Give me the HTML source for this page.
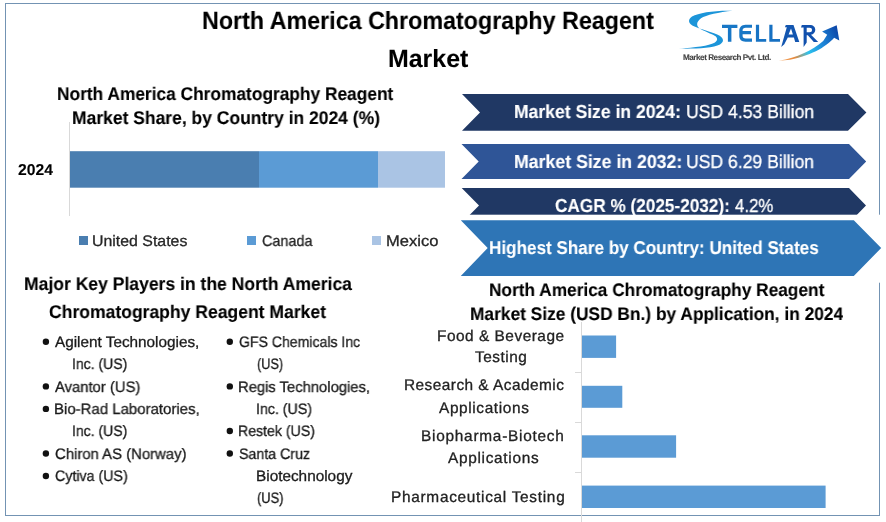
<!DOCTYPE html>
<html><head><meta charset="utf-8"><style>
html,body{margin:0;padding:0;background:#fff;width:886px;height:522px;overflow:hidden}
#r{position:relative;width:886px;height:522px;overflow:hidden}
svg{position:absolute;left:0;top:0}
.t{position:absolute;white-space:nowrap;font-family:'Liberation Sans', sans-serif;transform-origin:0 0;text-rendering:geometricPrecision;will-change:transform;-webkit-text-stroke:0.3px currentColor} .t.b{-webkit-text-stroke:0.1px currentColor}
</style></head><body><div id="r">
<svg width="886" height="522" viewBox="0 0 886 522"><rect x="5.5" y="3.5" width="874" height="512" fill="none" stroke="#7393b3" stroke-width="1"/><rect x="69" y="122" width="1" height="94" fill="#d9d9d9"/><rect x="70" y="151.2" width="189" height="36.5" fill="#4a7eb0"/><rect x="259" y="151.2" width="119" height="36.5" fill="#5b9bd5"/><rect x="378" y="151.2" width="67" height="36.5" fill="#aac4e4"/><rect x="79" y="236" width="9" height="9" fill="#4a7eb0"/><rect x="247" y="236" width="9" height="9" fill="#5b9bd5"/><rect x="372" y="236" width="9" height="9" fill="#aac4e4"/><polygon points="462,94 848,94 866.4,112.4 848,130.7 462,130.7 480,112.4" fill="#203864"/><polygon points="461.5,144 849,144 866.2,161.5 849,179 461.5,179 478.7,161.5" fill="#2f5597"/><polygon points="461.7,188.1 849,188.1 866,205.6 849,223 461.7,223 479,205.6" fill="#203864"/><rect x="452" y="214.7" width="434" height="68" fill="#fff"/><polygon points="460.8,220.2 853.8,220.2 881.2,248 853.8,275.9 460.8,275.9 487.7,248" fill="#2e75b6"/><rect x="581" y="322" width="1" height="200" fill="#d9d9d9"/><rect x="575" y="372" width="6" height="1" fill="#d9d9d9"/><rect x="575" y="422" width="6" height="1" fill="#d9d9d9"/><rect x="575" y="472" width="6" height="1" fill="#d9d9d9"/><rect x="582" y="335.5" width="34.1" height="22.4" fill="#5b9bd5"/><rect x="582" y="385.8" width="40.3" height="22.0" fill="#5b9bd5"/><rect x="582" y="435.3" width="94.1" height="22.4" fill="#5b9bd5"/><rect x="582" y="485.6" width="243.6" height="22.4" fill="#5b9bd5"/><circle cx="45.9" cy="341.8" r="3.2" fill="#111"/><circle cx="45.9" cy="386.4" r="3.2" fill="#111"/><circle cx="45.9" cy="408.9" r="3.2" fill="#111"/><circle cx="45.9" cy="453.5" r="3.2" fill="#111"/><circle cx="45.9" cy="476.0" r="3.2" fill="#111"/><circle cx="229.8" cy="341.7" r="3.2" fill="#111"/><circle cx="229.8" cy="386.4" r="3.2" fill="#111"/><circle cx="229.8" cy="431.0" r="3.2" fill="#111"/><circle cx="229.8" cy="453.5" r="3.2" fill="#111"/>
<defs>
<linearGradient id="ag" gradientUnits="userSpaceOnUse" x1="779" y1="60" x2="838" y2="30"><stop offset="0" stop-color="#f4a25a"/><stop offset="0.22" stop-color="#e8893a"/><stop offset="0.45" stop-color="#2cc2ee"/><stop offset="0.7" stop-color="#1d86d8"/><stop offset="1" stop-color="#0c46a8"/></linearGradient>
</defs>
<path d="M732.5,10.7 C714,10.3 699,12.5 692,16.5 C687.5,19.5 688,24 694.5,26.5 C700,28.8 707,30.8 714,33.3 C723.5,36.5 725.5,41 720,44.5 C713,48 695,49 678.8,48.6 C695,47.6 709,45.8 714.5,42.8 C718.5,40.5 718,37 713,34.8 C708,32.5 703,30.5 700.5,29 C696,26.5 696,22 701,18.3 C706,14.8 719,12.2 732.5,10.7 Z" fill="#1c95d9"/>
<path d="M722,24.7 H737.4 V27.9 H731.4 V41.7 H727.9 V27.9 H722 Z" fill="#1877c6"/>
<path d="M752,24.7 H745.5 C741.5,24.7 739.3,27.5 739.3,30.5 V36 C739.3,39.5 741.5,41.7 745.5,41.7 H752 V38.6 H745.8 C743.6,38.6 742.6,37.5 742.6,35.8 V34.2 H751 V31.0 H742.6 V30.5 C742.6,28.8 743.6,27.8 745.8,27.8 H752 Z" fill="#1877c6"/>
<path d="M755.9,24.7 H759.1 V38.9 H766.2 V41.7 H755.9 Z" fill="#1773c4"/>
<path d="M769.3,24.7 H772.5 V38.9 H780 V41.7 H769.3 Z" fill="#1670c2"/>
<path fill-rule="evenodd" d="M781.2,47 L786.8,27.2 L784.9,27.2 L785.8,24.9 H793.5 L799.3,42.1 H795.2 L793.9,37.4 H787.8 L784.3,44.2 Z M788.6,34.4 H792.9 L791.0,28.5 Z" fill="#1356b0"/>
<path fill-rule="evenodd" d="M801,27.5 L801.8,24.9 H809.5 C813.5,24.9 815.3,27 815.3,29.8 C815.3,32.5 813.5,34.3 811,34.8 L818.2,42.1 H813.8 L807.8,35.2 H806.7 V42.5 L803.6,47 V27.5 Z M806.7,27.8 V32.3 H809.5 C811.2,32.3 812,31.3 812,30.0 C812,28.7 811.2,27.8 809.5,27.8 Z" fill="#1150ad"/>
<path d="M778.8,60.8 C797,57.8 812,50.5 823.2,41 L827.2,34.7 L822.1,31.5 L836.7,25.2 L839.3,40.4 L834.1,37.8 C828,45 814,55 790,59.8 Z" fill="url(#ag)"/>
</svg>
<div class="t b" style="left:202.16px;top:9.90px;font-size:24.85px;line-height:24.85px;font-weight:bold;color:#000;transform:scaleX(0.9370);">North America Chromatography Reagent</div>
<div class="t b" style="left:388.20px;top:47.80px;font-size:24.85px;line-height:24.85px;font-weight:bold;color:#000;transform:scaleX(1.0026);">Market</div>
<div class="t b" style="left:57.45px;top:85.32px;font-size:18.31px;line-height:18.31px;font-weight:bold;color:#000;transform:scaleX(0.9469);">North America Chromatography Reagent</div>
<div class="t b" style="left:71.64px;top:109.22px;font-size:18.31px;line-height:18.31px;font-weight:bold;color:#000;transform:scaleX(0.9555);">Market Share, by Country in 2024 (%)</div>
<div class="t b" style="left:18.30px;top:162.64px;font-size:15.70px;line-height:15.70px;font-weight:bold;color:#000;">2024</div>
<div class="t" style="left:92.46px;top:233.60px;font-size:15.26px;line-height:15.26px;font-weight:normal;color:#262626;transform:scaleX(1.0418);">United States</div>
<div class="t" style="left:261.60px;top:233.60px;font-size:15.26px;line-height:15.26px;font-weight:normal;color:#262626;transform:scaleX(0.9444);">Canada</div>
<div class="t" style="left:385.71px;top:233.60px;font-size:15.26px;line-height:15.26px;font-weight:normal;color:#262626;transform:scaleX(1.0851);">Mexico</div>
<div class="t b" style="left:513.86px;top:102.86px;font-size:18.75px;line-height:18.75px;font-weight:bold;color:#fff;transform:scaleX(0.9364);">Market Size in 2024:</div>
<div class="t" style="left:686.06px;top:102.86px;font-size:18.75px;line-height:18.75px;font-weight:normal;color:#fff;transform:scaleX(0.9385);">USD 4.53 Billion</div>
<div class="t b" style="left:513.56px;top:152.86px;font-size:18.75px;line-height:18.75px;font-weight:bold;color:#fff;transform:scaleX(0.9443);">Market Size in 2032:</div>
<div class="t" style="left:685.86px;top:152.86px;font-size:18.75px;line-height:18.75px;font-weight:normal;color:#fff;transform:scaleX(0.9378);">USD 6.29 Billion</div>
<div class="t b" style="left:555.10px;top:196.76px;font-size:18.75px;line-height:18.75px;font-weight:bold;color:#fff;transform:scaleX(0.9170);">CAGR % (2025-2032):</div>
<div class="t" style="left:734.60px;top:196.76px;font-size:18.75px;line-height:18.75px;font-weight:normal;color:#fff;transform:scaleX(0.8976);">4.2%</div>
<div class="t b" style="left:489.08px;top:239.08px;font-size:18.60px;line-height:18.60px;font-weight:bold;color:#fff;transform:scaleX(0.9196);">Highest Share by Country: United States</div>
<div class="t b" style="left:23.64px;top:275.42px;font-size:18.31px;line-height:18.31px;font-weight:bold;color:#000;transform:scaleX(0.9589);">Major Key Players in the North America</div>
<div class="t b" style="left:49.20px;top:302.92px;font-size:18.31px;line-height:18.31px;font-weight:bold;color:#000;transform:scaleX(0.9592);">Chromatography Reagent Market</div>
<div class="t" style="left:54.80px;top:335.03px;font-size:15.12px;line-height:15.12px;font-weight:normal;color:#1a1a1a;transform:scaleX(1.0127);">Agilent Technologies,</div>
<div class="t" style="left:71.97px;top:357.33px;font-size:15.12px;line-height:15.12px;font-weight:normal;color:#1a1a1a;transform:scaleX(0.9277);">Inc. (US)</div>
<div class="t" style="left:54.80px;top:379.83px;font-size:15.12px;line-height:15.12px;font-weight:normal;color:#1a1a1a;transform:scaleX(0.9805);">Avantor (US)</div>
<div class="t" style="left:53.81px;top:401.53px;font-size:15.12px;line-height:15.12px;font-weight:normal;color:#1a1a1a;transform:scaleX(0.9910);">Bio-Rad Laboratories,</div>
<div class="t" style="left:71.97px;top:423.73px;font-size:15.12px;line-height:15.12px;font-weight:normal;color:#1a1a1a;transform:scaleX(0.9277);">Inc. (US)</div>
<div class="t" style="left:54.80px;top:447.13px;font-size:15.12px;line-height:15.12px;font-weight:normal;color:#1a1a1a;transform:scaleX(0.9850);">Chiron AS (Norway)</div>
<div class="t" style="left:54.80px;top:468.63px;font-size:15.12px;line-height:15.12px;font-weight:normal;color:#1a1a1a;transform:scaleX(0.9416);">Cytiva (US)</div>
<div class="t" style="left:238.80px;top:334.93px;font-size:15.12px;line-height:15.12px;font-weight:normal;color:#1a1a1a;transform:scaleX(0.9308);">GFS Chemicals Inc</div>
<div class="t" style="left:256.90px;top:357.33px;font-size:15.12px;line-height:15.12px;font-weight:normal;color:#1a1a1a;transform:scaleX(0.8423);">(US)</div>
<div class="t" style="left:237.82px;top:379.83px;font-size:15.12px;line-height:15.12px;font-weight:normal;color:#1a1a1a;transform:scaleX(0.9782);">Regis Technologies,</div>
<div class="t" style="left:255.76px;top:402.13px;font-size:15.12px;line-height:15.12px;font-weight:normal;color:#1a1a1a;transform:scaleX(0.9397);">Inc. (US)</div>
<div class="t" style="left:237.87px;top:424.43px;font-size:15.12px;line-height:15.12px;font-weight:normal;color:#1a1a1a;transform:scaleX(0.9346);">Restek (US)</div>
<div class="t" style="left:238.80px;top:446.93px;font-size:15.12px;line-height:15.12px;font-weight:normal;color:#1a1a1a;transform:scaleX(0.9400);">Santa Cruz</div>
<div class="t" style="left:255.59px;top:469.33px;font-size:15.12px;line-height:15.12px;font-weight:normal;color:#1a1a1a;transform:scaleX(1.0149);">Biotechnology</div>
<div class="t" style="left:256.60px;top:490.63px;font-size:15.12px;line-height:15.12px;font-weight:normal;color:#1a1a1a;transform:scaleX(0.8518);">(US)</div>
<div class="t b" style="left:488.85px;top:281.45px;font-size:18.17px;line-height:18.17px;font-weight:bold;color:#000;transform:scaleX(0.9514);">North America Chromatography Reagent</div>
<div class="t b" style="left:469.95px;top:305.45px;font-size:18.17px;line-height:18.17px;font-weight:bold;color:#000;transform:scaleX(0.9549);">Market Size (USD Bn.) by Application, in 2024</div>
<div class="t" style="left:436.90px;top:328.78px;font-size:15.41px;line-height:15.41px;font-weight:normal;color:#222;letter-spacing:0.514px;">Food &amp; Beverage</div>
<div class="t" style="left:475.30px;top:350.38px;font-size:15.41px;line-height:15.41px;font-weight:normal;color:#222;letter-spacing:0.517px;">Testing</div>
<div class="t" style="left:403.70px;top:378.38px;font-size:15.41px;line-height:15.41px;font-weight:normal;color:#222;letter-spacing:0.461px;">Research &amp; Academic</div>
<div class="t" style="left:439.20px;top:400.58px;font-size:15.41px;line-height:15.41px;font-weight:normal;color:#222;letter-spacing:0.618px;">Applications</div>
<div class="t" style="left:421.00px;top:428.78px;font-size:15.41px;line-height:15.41px;font-weight:normal;color:#222;letter-spacing:0.738px;">Biopharma-Biotech</div>
<div class="t" style="left:447.50px;top:450.78px;font-size:15.41px;line-height:15.41px;font-weight:normal;color:#222;letter-spacing:0.691px;">Applications</div>
<div class="t" style="left:391.40px;top:490.08px;font-size:15.41px;line-height:15.41px;font-weight:normal;color:#222;letter-spacing:0.700px;">Pharmaceutical Testing</div>
<div class="t b" style="left:683.00px;top:53.92px;font-size:8.14px;line-height:8.14px;font-weight:bold;color:#444;letter-spacing:-0.467px;">Market Research Pvt. Ltd.</div>
</div></body></html>
